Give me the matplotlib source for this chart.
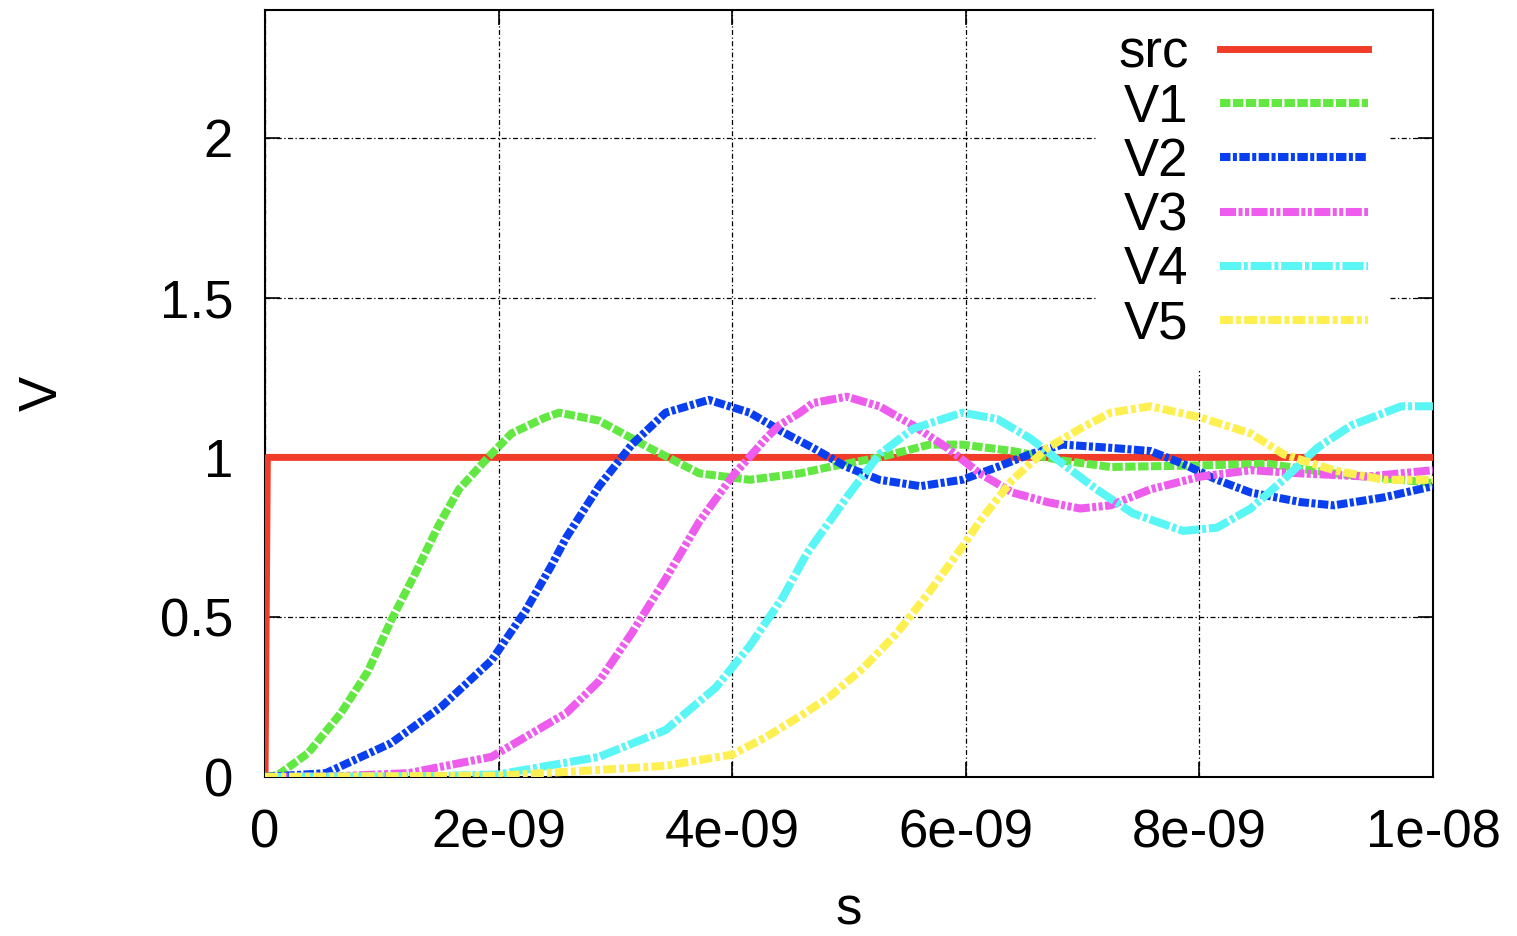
import numpy as np
import matplotlib
matplotlib.use('Agg')
from matplotlib import pyplot as plt

plt.rcParams['font.family'] = ['Liberation Sans', 'DejaVu Sans']

# time values read in ns, voltages in V
t_src = [0.0, 0.02, 10.0]
v_src = [0.0, 1.0, 1.0]

t_v1 = [0.0, 0.11, 0.37, 0.65, 0.88, 1.08, 1.29, 1.49, 1.66, 1.91, 2.11, 2.40, 2.52, 2.86, 3.29,
        3.72, 4.15, 4.58, 4.83, 5.26, 5.69, 5.97, 6.40, 6.83, 7.24, 8.01, 8.58, 9.15, 10.0]
v_v1 = [0.0, 0.006, 0.075, 0.2, 0.33, 0.49, 0.64, 0.79, 0.9, 1.0, 1.075, 1.125, 1.14, 1.115, 1.03,
        0.95, 0.93, 0.95, 0.97, 1.0, 1.04, 1.04, 1.02, 0.99, 0.97, 0.975, 0.98, 0.95, 0.92]

t_v2 = [0.0, 0.52, 1.08, 1.51, 1.94, 2.23, 2.45, 2.58, 2.86, 3.14, 3.43, 3.80, 4.15, 4.43, 4.69,
        4.98, 5.26, 5.61, 5.97, 6.27, 6.55, 6.83, 7.24, 7.58, 7.86, 8.15, 8.44, 8.87, 9.15, 9.58, 10.0]
v_v2 = [0.0, 0.012, 0.106, 0.22, 0.365, 0.52, 0.66, 0.75, 0.91, 1.04, 1.14, 1.18, 1.14, 1.08, 1.03,
        0.97, 0.93, 0.91, 0.93, 0.97, 1.01, 1.04, 1.03, 1.02, 0.98, 0.93, 0.89, 0.86, 0.85, 0.875, 0.91]

t_v3 = [0.0, 0.6, 1.23, 1.94, 2.58, 2.86, 3.14, 3.43, 3.72, 4.0, 4.29, 4.40, 4.58, 4.69, 4.98,
        5.26, 5.55, 5.84, 6.12, 6.40, 6.70, 6.98, 7.24, 7.58, 8.01, 8.44, 8.87, 9.44, 10.0]
v_v3 = [0.0, 0.002, 0.012, 0.063, 0.2, 0.30, 0.45, 0.62, 0.80, 0.94, 1.06, 1.10, 1.14, 1.17, 1.19,
        1.16, 1.10, 1.03, 0.95, 0.89, 0.86, 0.84, 0.85, 0.90, 0.94, 0.96, 0.95, 0.94, 0.96]

t_v4 = [0.0, 1.5, 2.0, 2.86, 3.43, 3.86, 4.15, 4.43, 4.64, 4.98, 5.26, 5.55, 5.97, 6.27, 6.55,
        6.83, 7.12, 7.43, 7.86, 8.15, 8.44, 8.72, 9.01, 9.30, 9.73, 10.0]
v_v4 = [0.0, 0.003, 0.008, 0.063, 0.147, 0.28, 0.41, 0.56, 0.70, 0.875, 1.01, 1.09, 1.14, 1.12, 1.06,
        0.98, 0.90, 0.825, 0.77, 0.78, 0.84, 0.93, 1.03, 1.10, 1.16, 1.16]

t_v5 = [0.0, 2.0, 2.86, 3.43, 4.0, 4.29, 4.58, 4.83, 5.12, 5.41, 5.69, 5.97, 6.12, 6.27, 6.40,
        6.70, 6.98, 7.24, 7.58, 8.01, 8.44, 8.72, 9.15, 9.58, 10.0]
v_v5 = [0.0, 0.004, 0.022, 0.035, 0.07, 0.125, 0.19, 0.25, 0.34, 0.45, 0.58, 0.72, 0.80, 0.87, 0.93,
        1.03, 1.09, 1.14, 1.16, 1.125, 1.075, 1.01, 0.96, 0.93, 0.93]

series = [
    ('src', t_src, v_src, '#f03c28', '-'),
    ('V1', t_v1, v_v1, '#63e843', (0, (1.3, 0.3))),
    ('V2', t_v2, v_v2, '#0a3ff0', (0, (1.3, 0.3, 0.5, 0.3))),
    ('V3', t_v3, v_v3, '#ee5cee', (0, (2.0, 0.3, 0.5, 0.3, 0.5, 0.3))),
    ('V4', t_v4, v_v4, '#5af5f5', (0, (2.6, 0.35, 0.5, 0.35))),
    ('V5', t_v5, v_v5, '#fff052', (0, (1.6, 0.4, 0.6, 0.4))),
]

xticks = [0, 2e-9, 4e-9, 6e-9, 8e-9, 1e-8]
xticklabels = ['0', '2e-09', '4e-09', '6e-09', '8e-09', '1e-08']
yticks = [0, 0.5, 1, 1.5, 2]
yticklabels = ['0', '0.5', '1', '1.5', '2']

fig = plt.figure(figsize=(15.17, 9.36), dpi=100)
ax = fig.add_axes([0.1747, 0.1699, 0.9446 - 0.1747, 0.9893 - 0.1699])

for name, t, v, col, ls in series:
    t = np.array(t) * 1e-9
    lw = 5.0 if name == 'src' else 5.8
    ax.plot(t, v, color=col, lw=lw, ls=ls, label=name, zorder=3)

ax.set_xlim(0, 1e-8)
ax.set_ylim(0, 2.4)
ax.set_xticks(xticks)
ax.set_xticklabels(xticklabels)
ax.set_yticks(yticks)
ax.set_yticklabels(yticklabels)
ax.tick_params(direction='in', top=True, right=True, length=11, width=1.2, labelsize=38, pad=23)
ax.grid(True, color='black', lw=0.9, ls=(0, (4, 2, 1, 2)), zorder=1)
for s in ax.spines.values():
    s.set_linewidth(1.5)

ax.set_xlabel('s', fontsize=38, labelpad=19)
ax.set_ylabel('V', fontsize=38, labelpad=66)

leg = ax.legend(loc='upper right', bbox_to_anchor=(0.985, 1.038), markerfirst=False,
                fontsize=38, handlelength=2.8, handletextpad=0.6, labelspacing=0.08,
                borderpad=0.4, frameon=True, fancybox=False, framealpha=1)
leg.get_frame().set_edgecolor('none')
leg.set_zorder(2.4)

fig.savefig('out.png', dpi=100)
